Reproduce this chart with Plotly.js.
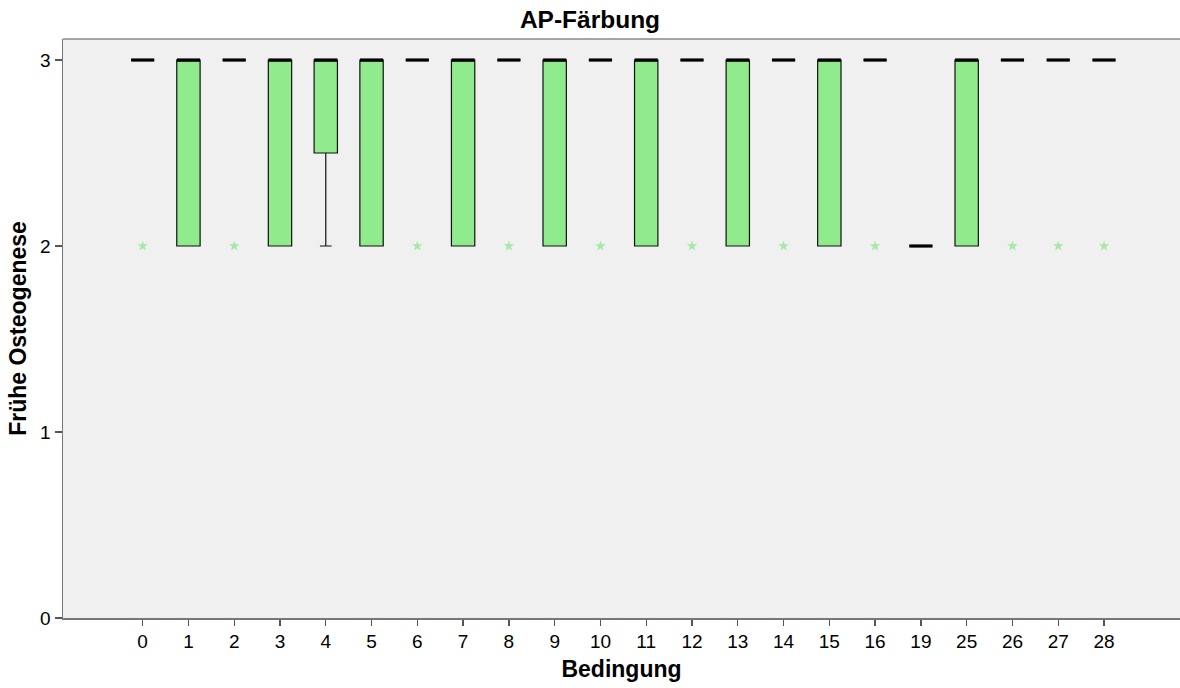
<!DOCTYPE html>
<html>
<head>
<meta charset="utf-8">
<script src="https://cdn.plot.ly/plotly-3.0.1.min.js"></script>
<style>html,body{margin:0;padding:0;background:#fff;}#chart{width:1180px;height:688px;}</style>
</head>
<body>
<div id="chart"></div>
<script>
const categories = ['0','1','2','3','4','5','6','7','8','9','10','11','12','13','14','15','16','19','25','26','27','28'];
const q1         = [3,2,3,2,2.5,2,3,2,3,2,3,2,3,2,3,2,3,2,2,3,3,3];
const median     = [3,3,3,3,3,3,3,3,3,3,3,3,3,3,3,3,3,2,3,3,3,3];
const q3         = [3,3,3,3,3,3,3,3,3,3,3,3,3,3,3,3,3,2,3,3,3,3];
const lowerfence = [3,2,3,2,2,2,3,2,3,2,3,2,3,2,3,2,3,2,2,3,3,3];
const upperfence = [3,3,3,3,3,3,3,3,3,3,3,3,3,3,3,3,3,2,3,3,3,3];
const outlierCats = ['0','2','6','8','10','12','14','16','26','27','28'];
const outlierVals = [2,2,2,2,2,2,2,2,2,2,2];

const traces = [
  {
    type: 'box',
    x: categories,
    q1: q1, median: median, q3: q3,
    lowerfence: lowerfence, upperfence: upperfence,
    width: 0.51,
    whiskerwidth: 0.5,
    fillcolor: '#8FEB8C',
    line: {color: '#111', width: 1.2},
    boxpoints: false,
    hoverinfo: 'skip',
    showlegend: false
  },
  {
    type: 'scatter', mode: 'markers',
    x: categories, y: median,
    marker: {symbol: 'line-ew', size: 16.5, line: {color: '#000', width: 3.2}},
    hoverinfo: 'skip', showlegend: false, cliponaxis: false
  },
  {
    type: 'scatter', mode: 'markers',
    x: outlierCats, y: outlierVals,
    marker: {symbol: 'star', size: 8, color: '#a6e8a6', line: {width: 0}},
    hoverinfo: 'skip', showlegend: false
  }
];

const layout = {
  width: 1180, height: 688,
  margin: {l: 63, r: 0, t: 39, b: 70},
  paper_bgcolor: '#ffffff',
  plot_bgcolor: '#f0f0f0',
  font: {family: 'Liberation Sans, Arial, sans-serif', color: '#000'},
  title: {
    text: '<b>AP-Färbung</b>',
    font: {size: 24.5, color: '#000'},
    x: 0.5, xref: 'container', xanchor: 'center',
    y: 1 - 19/688, yref: 'container', yanchor: 'middle'
  },
  xaxis: {
    type: 'category',
    categoryorder: 'array', categoryarray: categories,
    range: [-1.74, 22.66],
    showgrid: false, zeroline: false,
    showline: true, linecolor: '#777', linewidth: 1.5, mirror: false,
    ticks: 'outside', ticklen: 6, tickwidth: 1.3, tickcolor: '#555',
    tickfont: {size: 19, color: '#000'},
    title: {text: '<b>Bedingung</b>', font: {size: 23, color: '#000'}, standoff: 9}
  },
  yaxis: {
    range: [0, 3.113],
    tickvals: [0,1,2,3], ticktext: ['0','1','2','3'],
    showgrid: false, zeroline: false,
    showline: true, linecolor: '#777', linewidth: 1.5,
    ticks: 'outside', ticklen: 7, tickwidth: 1.3, tickcolor: '#555',
    tickfont: {size: 19, color: '#000'},
    title: {text: '<b>Frühe Osteogenese</b>', font: {size: 23, color: '#000'}, standoff: 7}
  },
  shapes: [
    {type: 'line', xref: 'paper', yref: 'paper', x0: 0, x1: 1, y0: 1, y1: 1, line: {color: '#888', width: 1.5}}
  ],
  hovermode: false
};

Plotly.newPlot('chart', traces, layout, {displayModeBar: false, staticPlot: true});
</script>
</body>
</html>
